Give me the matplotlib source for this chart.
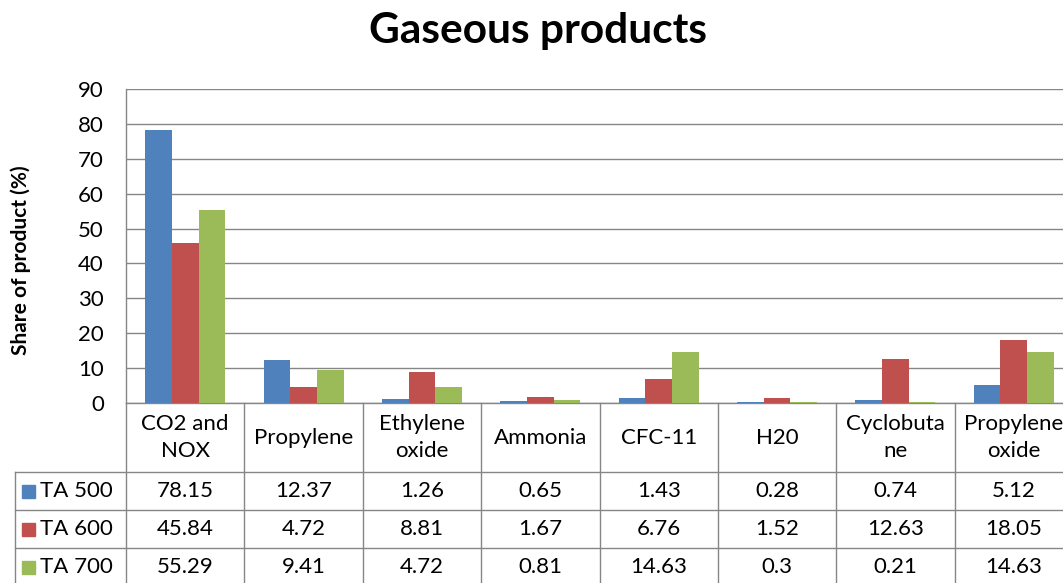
import matplotlib
matplotlib.use("Agg")
import matplotlib.pyplot as plt
from matplotlib.lines import Line2D
from matplotlib.patches import Rectangle
from matplotlib.transforms import blended_transform_factory

categories = ["CO2 and\nNOX", "Propylene", "Ethylene\noxide", "Ammonia",
              "CFC-11", "H20", "Cyclobuta\nne", "Propylene\noxide"]
series_names = ["TA 500", "TA 600", "TA 700"]
ta500 = [78.15, 12.37, 1.26, 0.65, 1.43, 0.28, 0.74, 5.12]
ta600 = [45.84, 4.72, 8.81, 1.67, 6.76, 1.52, 12.63, 18.05]
ta700 = [55.29, 9.41, 4.72, 0.81, 14.63, 0.3, 0.21, 14.63]
series = [ta500, ta600, ta700]
colors = ["#4F81BD", "#C0504D", "#9BBB59"]
yticks = list(range(0, 91, 10))

W, H = 1063, 583
plt.rcParams['font.family'] = ['Lato', 'DejaVu Sans']
fig = plt.figure(figsize=(W / 100, H / 100), dpi=100)

def fx(px):
    return px / W

def fy(py):
    return (H - py) / H

ax_left, ax_right, ax_top, ax_bottom = 126, 1073, 89, 403
ax = fig.add_axes([fx(ax_left), fy(ax_bottom), fx(ax_right - ax_left),
                   (ax_bottom - ax_top) / H])

n = len(categories)
bw = 0.225
for k, (vals, c) in enumerate(zip(series, colors)):
    xs = [i + (k - 1) * bw for i in range(n)]
    ax.bar(xs, vals, width=bw, color=c, zorder=3, linewidth=0)

grid_c = "#868686"
ax.set_xlim(-0.5, n - 0.5)
ax.set_ylim(0, 90)
ax.set_yticks(yticks)
ax.set_xticks([])
ax.yaxis.grid(True, color=grid_c, linewidth=1.0, zorder=0)
ax.set_axisbelow(True)
for s in ["top", "right"]:
    ax.spines[s].set_visible(False)
for s in ["left", "bottom"]:
    ax.spines[s].set_color(grid_c)
    ax.spines[s].set_linewidth(1.0)
ax.tick_params(axis='y', length=0, pad=16, labelsize=16, labelcolor="#000000")

fig.text(fx(538), fy(31), "Gaseous products", ha="center", va="center",
         fontsize=30.5, fontweight="bold")
fig.text(fx(21), fy(260), "Share of product (%)", ha="center", va="center",
         rotation=90, fontsize=15, fontweight="bold")

# data table below the plot area
tr = blended_transform_factory(ax.transData, fig.transFigure)
rows_y = [403, 472, 510, 548, 586]
table_left_px = 15
bottom_px = 600

# vertical cell borders at category boundaries
for i in range(n + 1):
    fig.add_artist(Line2D([i - 0.5, i - 0.5], [fy(ax_bottom), fy(bottom_px)],
                          transform=tr, color=grid_c, linewidth=1.0))
# left border of row-label column
fig.add_artist(Line2D([fx(table_left_px)] * 2, [fy(rows_y[1]), fy(bottom_px)],
                      transform=fig.transFigure, color=grid_c, linewidth=1.0))
# horizontal borders
for r in rows_y[1:]:
    fig.add_artist(Line2D([fx(table_left_px), 1.02], [fy(r), fy(r)],
                          transform=fig.transFigure, color=grid_c, linewidth=1.0))

# header row: category names
for i, cat in enumerate(categories):
    fig.text(i, fy((rows_y[0] + rows_y[1]) / 2), cat, transform=tr,
             ha="center", va="center", fontsize=16, linespacing=1.45)

# value rows with legend keys
for r, (name, vals, c) in enumerate(zip(series_names, series, colors)):
    yc = (rows_y[r + 1] + rows_y[r + 2]) / 2
    fig.add_artist(Rectangle((fx(22), fy(yc + 6.5)), fx(13), 13 / H,
                             transform=fig.transFigure, color=c))
    fig.text(fx(40), fy(yc), name, ha="left", va="center", fontsize=16)
    for i, v in enumerate(vals):
        fig.text(i, fy(yc), f"{v:g}", transform=tr, ha="center", va="center",
                 fontsize=16)

fig.savefig("out.png", dpi=100)
